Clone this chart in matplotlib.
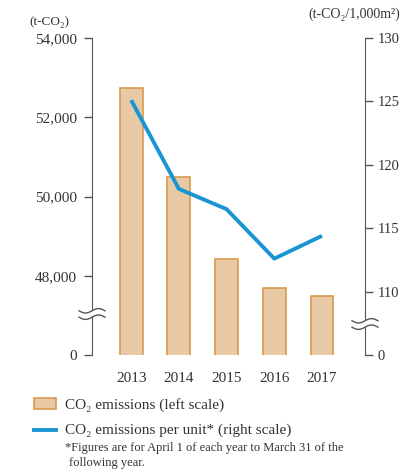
import numpy as np
import matplotlib.pyplot as plt
from matplotlib.lines import Line2D

years = ['2013', '2014', '2015', '2016', '2017']
emissions = [52740, 50480, 48430, 47700, 47500]      # t-CO2, left scale
per_unit = [125.1, 118.1, 116.5, 112.6, 114.4]       # t-CO2/1,000m2, right scale

left_ticks = [46000, 48000, 50000, 52000, 54000]
left_labels = ['0', '48,000', '50,000', '52,000', '54,000']
right_ticks = [105, 110, 115, 120, 125, 130]
right_labels = ['0', '110', '115', '120', '125', '130']

bar_face = '#E8CBA6'
bar_edge = '#D99A4E'
line_col = '#1A95D4'
axis_col = '#555555'
text_col = '#333333'

plt.rcParams['font.family'] = ['Liberation Serif', 'DejaVu Serif']
plt.rcParams['font.size'] = 10

fig = plt.figure(figsize=(4.02, 4.70), dpi=100)
ax = fig.add_axes([92 / 402, 1 - 355 / 470, 273 / 402, 317 / 470])
ax2 = ax.twinx()

x = np.arange(len(years))
ax.bar(x, emissions, width=0.48, color=bar_face, edgecolor=bar_edge, linewidth=1.2, zorder=2)
ax.set_ylim(46000, 54000)
ax.set_xlim(-0.82, 4.9)
ax.set_yticks(left_ticks)
ax.set_yticklabels(left_labels)
ax.set_xticks(x)
ax.set_xticklabels(years)

ax2.plot(x, per_unit, color=line_col, lw=2.8, solid_capstyle='butt', zorder=3)
ax2.set_ylim(105, 130)
ax2.set_yticks(right_ticks)
ax2.set_yticklabels(right_labels)

for a in (ax, ax2):
    for s in ('top', 'bottom'):
        a.spines[s].set_visible(False)
    a.tick_params(colors=axis_col, labelcolor=text_col, labelsize=11, length=6, width=1)
ax.spines['left'].set_color(axis_col)
ax2.spines['right'].set_color(axis_col)
ax2.spines['left'].set_visible(False)
ax.spines['right'].set_visible(False)
ax.tick_params(axis='x', length=0, pad=12)
ax.tick_params(axis='y', pad=5)
ax2.tick_params(axis='y', pad=3, labelsize=10.5)


# break marks on both axes (drawn in pixel space)
def axis_break(xc, yc):
    xs = np.linspace(xc - 13, xc + 13, 40)
    wave = 2.2 * np.sin((xs - xc) / 26 * 2 * np.pi)
    fig.add_artist(plt.Polygon(
        np.column_stack([np.r_[xs, xs[::-1]] / 402,
                         1 - np.r_[yc - 3.2 - wave, (yc + 3.2 - wave)[::-1]] / 470]),
        closed=True, transform=fig.transFigure, facecolor='white', edgecolor='none', zorder=5))
    for dy in (-3.2, 3.2):
        fig.add_artist(Line2D(xs / 402, 1 - (yc + dy - wave) / 470, color=axis_col, lw=1, zorder=6))


axis_break(92, 314)
axis_break(365, 324)

fig.text(29 / 402, 1 - 22 / 470, '(t-CO₂)', fontsize=9.5, color=text_col, va='center')
fig.text(400 / 402, 1 - 14 / 470, '(t-CO₂/1,000m²)', fontsize=10, color=text_col,
         va='center', ha='right')

# legend
fig.add_artist(plt.Rectangle((34 / 402, 1 - 409 / 470), 22 / 402, 11 / 470,
                             transform=fig.transFigure, facecolor=bar_face,
                             edgecolor=bar_edge, lw=1.2))
fig.text(65 / 402, 1 - 405 / 470, 'CO₂ emissions (left scale)', fontsize=11,
         color=text_col, va='center')
fig.add_artist(Line2D([34 / 402, 56 / 402], [1 - 430 / 470] * 2, color=line_col, lw=2.8))
fig.text(65 / 402, 1 - 430 / 470, 'CO₂ emissions per unit* (right scale)', fontsize=11,
         color=text_col, va='center')
fig.text(65 / 402, 1 - 448 / 470, '*Figures are for April 1 of each year to March 31 of the',
         fontsize=9, color=text_col, va='center')
fig.text(69 / 402, 1 - 463 / 470, 'following year.', fontsize=9, color=text_col, va='center')

fig.savefig('out.png', dpi=100)
